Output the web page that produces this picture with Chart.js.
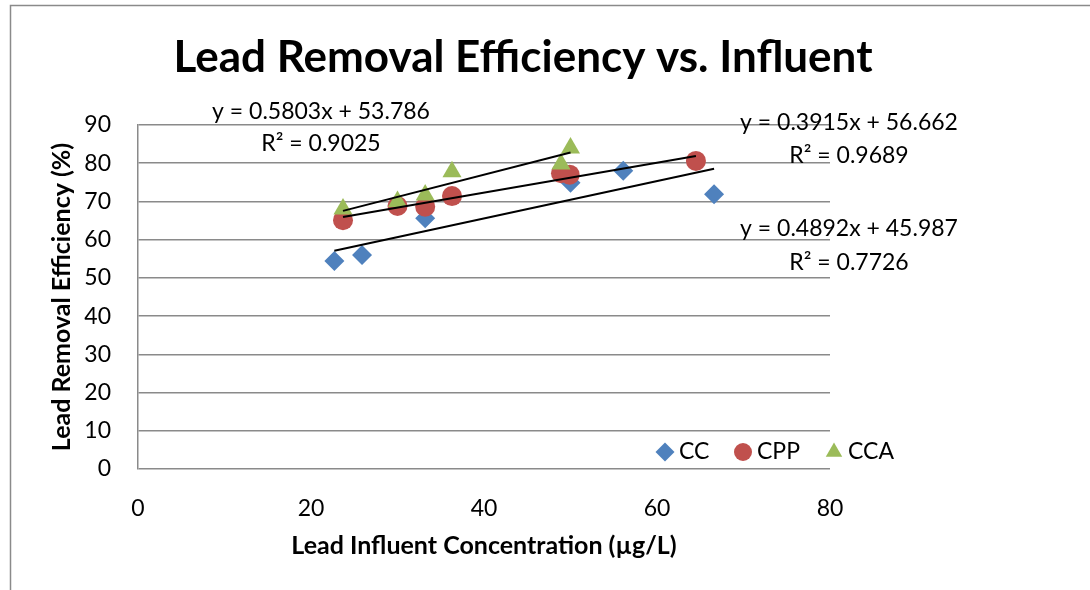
<!DOCTYPE html>
<html lang="en">
<head>
<meta charset="UTF-8">
<title>Lead Removal Efficiency vs. Influent</title>
<script src="https://cdn.jsdelivr.net/npm/chart.js"></script>
<style>
  html, body { margin: 0; padding: 0; background: #fff; }
  #wrap { width: 1090px; height: 590px; }
</style>
</head>
<body>
<div id="wrap"><canvas id="chart" width="1090" height="590"></canvas></div>
<script>
// measured points (influent µg/L, removal %)
const ccX  = [22.7, 25.9, 33.2, 50.0, 56.1, 66.6];
const ccY  = [54.4, 56.0, 65.6, 74.9, 78.0, 71.9];
const cppX = [23.7, 30.0, 33.2, 36.3, 48.9, 49.9, 64.5];
const cppY = [65.1, 68.8, 68.6, 71.4, 77.4, 77.0, 80.6];
const ccaX = [23.7, 30.0, 33.2, 36.3, 48.9, 50.0];
const ccaY = [68.0, 70.0, 71.7, 77.8, 79.8, 84.0];

// trendline slope / intercept as printed on the chart
const ccFit  = [0.4892, 45.987];
const cppFit = [0.3915, 56.662];
const ccaFit = [0.5803, 53.786];

const seriesNames = ['CC', 'CPP', 'CCA'];
const seriesColors = ['#4f81bd', '#c0504d', '#9bbb59'];
const seriesShapes = ['rectRot', 'circle', 'triangle'];

const xTicks = [0, 20, 40, 60, 80];
const yTicks = [0, 10, 20, 30, 40, 50, 60, 70, 80, 90];

const fitText = [
  ['y = 0.5803x + 53.786', 'R² = 0.9025'],
  ['y = 0.3915x + 56.662', 'R² = 0.9689'],
  ['y = 0.4892x + 45.987', 'R² = 0.7726']
];

const FONT = 'Lato, "Open Sans", sans-serif';

function pts(xs, ys) { return xs.map((x, i) => ({ x, y: ys[i] })); }
function fitLine(xs, fit) {
  const lo = Math.min(...xs), hi = Math.max(...xs);
  return [{ x: lo, y: fit[0] * lo + fit[1] }, { x: hi, y: fit[0] * hi + fit[1] }];
}

const scatterSets = [[ccX, ccY], [cppX, cppY], [ccaX, ccaY]].map(([xs, ys], i) => ({
  label: seriesNames[i],
  data: pts(xs, ys),
  pointStyle: seriesShapes[i],
  backgroundColor: seriesColors[i],
  borderColor: seriesColors[i],
  borderWidth: 0,
  pointRadius: i === 2 ? 11 : 10,
  showLine: false,
  order: 3 - i
}));

const lineSets = [[ccX, ccFit], [cppX, cppFit], [ccaX, ccaFit]].map(([xs, fit], i) => ({
  label: 'fit ' + seriesNames[i],
  data: fitLine(xs, fit),
  showLine: true,
  borderColor: '#000',
  borderWidth: 2,
  pointRadius: 0,
  order: 0
}));

// frame, title, trend labels, legend
const decor = {
  id: 'decor',
  beforeDraw(chart) {
    const ctx = chart.ctx;
    ctx.save();
    ctx.strokeStyle = '#8a8a8a';
    ctx.lineWidth = 1.5;
    ctx.beginPath();
    ctx.moveTo(10.5, 590);
    ctx.lineTo(10.5, 5.5);
    ctx.lineTo(1090, 5.5);
    ctx.stroke();
    ctx.restore();
  },
  afterDraw(chart) {
    const ctx = chart.ctx;
    ctx.save();
    ctx.fillStyle = '#000';
    ctx.textAlign = 'center';
    ctx.textBaseline = 'middle';
    ctx.font = 'bold 44px ' + FONT;
    ctx.fillText('Lead Removal Efficiency vs. Influent', 523, 58);

    ctx.font = '23px ' + FONT;
    ctx.fillText(fitText[0][0], 321, 112);
    ctx.fillText(fitText[0][1], 321, 144);
    ctx.fillText(fitText[1][0], 849, 123);
    ctx.fillText(fitText[1][1], 849, 156);
    ctx.fillText(fitText[2][0], 849, 229);
    ctx.fillText(fitText[2][1], 849, 263);

    // legend inside plot bottom right
    const legendX = [665, 743, 834];
    ctx.textAlign = 'left';
    seriesNames.forEach((name, i) => {
      ctx.fillStyle = seriesColors[i];
      Chart.helpers.drawPoint(ctx, { pointStyle: seriesShapes[i], radius: i === 1 ? 9 : 9.5, borderWidth: 0 }, legendX[i], 452);
      ctx.fillStyle = '#000';
      ctx.fillText(name, legendX[i] + 14, 452);
    });
    ctx.restore();
  }
};

new Chart(document.getElementById('chart'), {
  type: 'scatter',
  data: { datasets: [...lineSets, ...scatterSets] },
  plugins: [decor],
  options: {
    responsive: false,
    animation: false,
    layout: { padding: { left: 10, right: 260, top: 125, bottom: 20 } },
    plugins: {
      legend: { display: false },
      tooltip: { enabled: false }
    },
    scales: {
      x: {
        type: 'linear',
        min: 0, max: 80,
        afterBuildTicks: s => { s.ticks = xTicks.map(v => ({ value: v })); },
        afterFit: s => { s.height = 101; },
        ticks: { color: '#000', padding: 18, font: { family: FONT, size: 23 } },
        grid: { display: false },
        border: { display: false },
        title: {
          display: true,
          text: 'Lead Influent Concentration (µg/L)',
          color: '#000',
          font: { family: FONT, size: 25, weight: 'bold' },
          padding: { top: 0, bottom: 9 }
        }
      },
      y: {
        min: 0, max: 90,
        afterBuildTicks: s => { s.ticks = yTicks.map(v => ({ value: v })); },
        afterFit: s => { s.width = 128; },
        ticks: { color: '#000', padding: 27, font: { family: FONT, size: 23 } },
        grid: { color: '#8a8a8a', lineWidth: 1.5, drawTicks: false },
        border: { color: '#8a8a8a', width: 1.5 },
        title: {
          display: true,
          text: 'Lead Removal Efficiency (%)',
          color: '#000',
          font: { family: FONT, size: 25, weight: 'bold' },
          padding: { top: 37, bottom: 0 }
        }
      }
    }
  }
});
</script>
</body>
</html>
